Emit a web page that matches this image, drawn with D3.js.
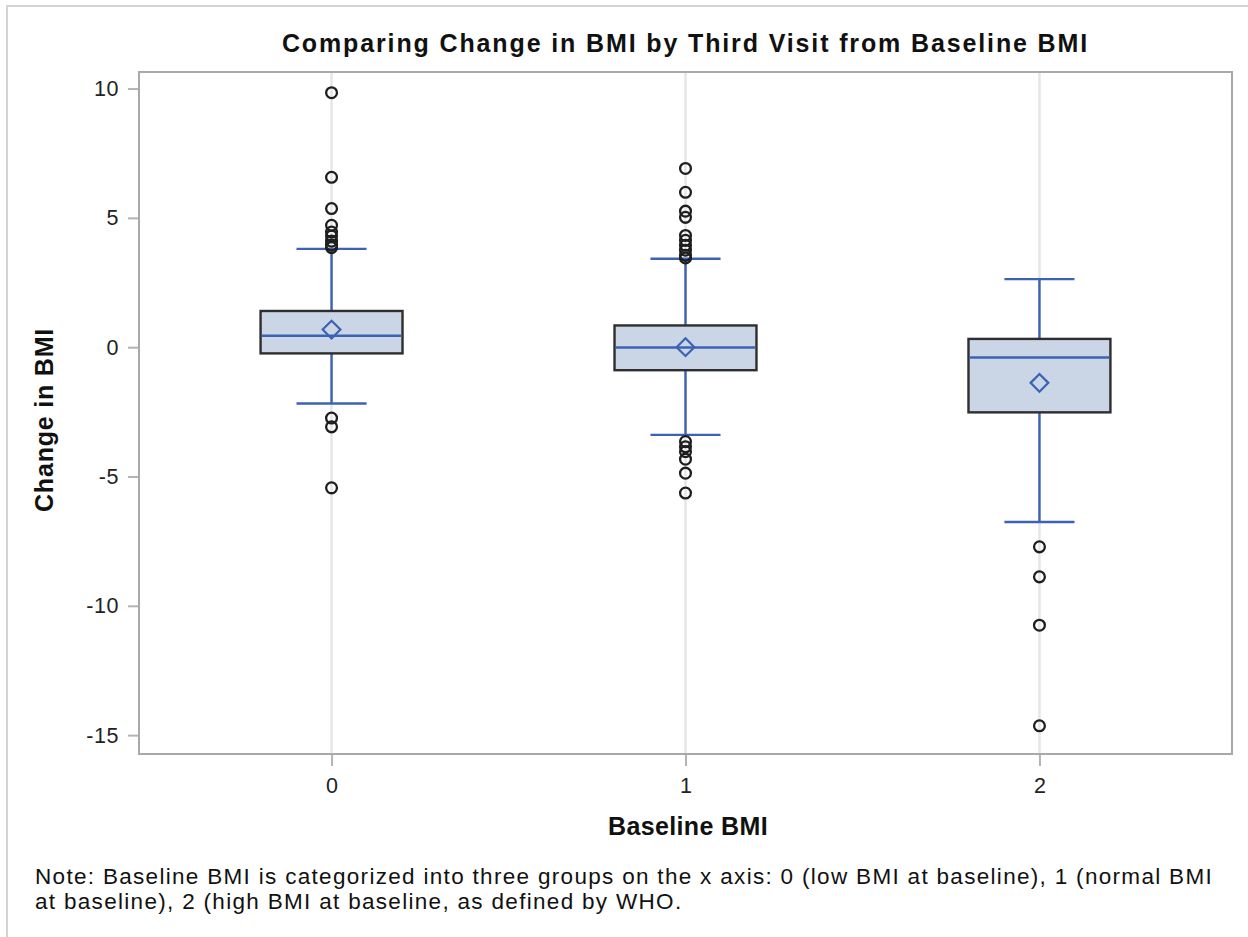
<!DOCTYPE html>
<html>
<head>
<meta charset="utf-8">
<script src="https://cdn.jsdelivr.net/npm/d3@7"></script>
<style>
  html, body { margin: 0; padding: 0; background: #fff; }
  svg { display: block; font-family: "Liberation Sans", Arial, sans-serif; }
</style>
</head>
<body>
<svg id="chart" width="1248" height="937"></svg>
<script>
// ---- data ----
const categories  = ["0", "1", "2"];
const q1          = [-0.24, -0.89, -2.52];
const median      = [0.44, -0.01, -0.40];
const q3          = [1.40, 0.84, 0.32];
const mean        = [0.68, 0.00, -1.38];
const whiskerLow  = [-2.18, -3.39, -6.76];
const whiskerHigh = [3.80, 3.42, 2.63];
const outliers0   = [9.84, 6.57, 5.36, 4.71, 4.45, 4.30, 4.10, 3.95, 3.85, -2.74, -3.08, -5.44];
const outliers1   = [6.91, 5.99, 5.26, 5.02, 4.32, 4.13, 3.94, 3.75, 3.55, 3.45, -3.65, -3.85, -4.04, -4.33, -4.87, -5.64];
const outliers2   = [-7.72, -8.88, -10.75, -14.64];
const yTicks      = [-15, -10, -5, 0, 5, 10];
const yTickLabels = ["-15", "-10", "-5", "0", "5", "10"];

const titleText = "Comparing Change in BMI by Third Visit from Baseline BMI";
const xLabel = "Baseline BMI";
const yLabel = "Change in BMI";
const noteLines = [
  "Note: Baseline BMI is categorized into three groups on the x axis: 0 (low BMI at baseline), 1 (normal BMI",
  "at baseline), 2 (high BMI at baseline, as defined by WHO."
];

const outliers = [outliers0, outliers1, outliers2];
const groups = categories.map((c, i) => ({
  cat: c, q1: q1[i], med: median[i], q3: q3[i], mean: mean[i],
  lo: whiskerLow[i], hi: whiskerHigh[i], out: outliers[i]
}));

// ---- layout ----
const plot = { left: 139, right: 1232, top: 72, bottom: 754 };
const boxColor = "#3D62B5";
const boxFill = "#CAD5E6";

const svg = d3.select("#chart");

const x = d3.scalePoint().domain(categories).range([plot.left, plot.right]).padding(0.544);
const y = d3.scaleLinear().domain([-15.73, 10.64]).range([plot.bottom, plot.top]);
const step = x.step();
const boxW = step * 0.401;
const capW = step * 0.198;

function fitWidth(sel, target) {
  const node = sel.node();
  const n = sel.text().length;
  const natural = node.getComputedTextLength();
  sel.attr("letter-spacing", ((target - natural) / n).toFixed(2));
}

// outer border
svg.append("rect").attr("x", 7).attr("y", 6).attr("width", 1400).attr("height", 1100)
  .attr("fill", "none").attr("stroke", "#D4D4D4").attr("stroke-width", 2);

// gridlines
svg.append("g").selectAll("line").data(categories).join("line")
  .attr("x1", d => x(d)).attr("x2", d => x(d))
  .attr("y1", plot.top).attr("y2", plot.bottom)
  .attr("stroke", "#E6E6E6").attr("stroke-width", 2.5);

// axes
const yAxis = svg.append("g").attr("transform", `translate(${plot.left - 1},0)`)
  .call(d3.axisLeft(y).tickValues(yTicks).tickSize(10).tickPadding(9)
    .tickFormat((d, i) => yTickLabels[i]));
yAxis.select(".domain").remove();
yAxis.selectAll(".tick line").attr("stroke", "#B4B4B4").attr("stroke-width", 2);
yAxis.selectAll(".tick text").attr("font-size", 21.5).attr("fill", "#222")
  .attr("letter-spacing", 0.6).attr("font-family", "Liberation Sans, Arial, sans-serif");

const xAxis = svg.append("g").attr("transform", `translate(0,${plot.bottom + 1})`)
  .call(d3.axisBottom(x).tickSize(11).tickPadding(12));
xAxis.select(".domain").remove();
xAxis.selectAll(".tick line").attr("stroke", "#B4B4B4").attr("stroke-width", 2);
xAxis.selectAll(".tick text").attr("font-size", 21.5).attr("fill", "#222")
  .attr("font-family", "Liberation Sans, Arial, sans-serif");

// boxes
const g = svg.append("g").selectAll("g").data(groups).join("g");

g.append("line").attr("x1", d => x(d.cat)).attr("x2", d => x(d.cat))
  .attr("y1", d => y(d.q3)).attr("y2", d => y(d.hi))
  .attr("stroke", boxColor).attr("stroke-width", 2.4);
g.append("line").attr("x1", d => x(d.cat)).attr("x2", d => x(d.cat))
  .attr("y1", d => y(d.q1)).attr("y2", d => y(d.lo))
  .attr("stroke", boxColor).attr("stroke-width", 2.4);
g.append("line").attr("x1", d => x(d.cat) - capW / 2).attr("x2", d => x(d.cat) + capW / 2)
  .attr("y1", d => y(d.hi)).attr("y2", d => y(d.hi))
  .attr("stroke", boxColor).attr("stroke-width", 2.4);
g.append("line").attr("x1", d => x(d.cat) - capW / 2).attr("x2", d => x(d.cat) + capW / 2)
  .attr("y1", d => y(d.lo)).attr("y2", d => y(d.lo))
  .attr("stroke", boxColor).attr("stroke-width", 2.4);

g.append("rect").attr("x", d => x(d.cat) - boxW / 2).attr("width", boxW)
  .attr("y", d => y(d.q3)).attr("height", d => y(d.q1) - y(d.q3))
  .attr("fill", boxFill).attr("stroke", "#2E2E2E").attr("stroke-width", 2.4);

g.append("line").attr("x1", d => x(d.cat) - boxW / 2 + 1.2).attr("x2", d => x(d.cat) + boxW / 2 - 1.2)
  .attr("y1", d => y(d.med)).attr("y2", d => y(d.med))
  .attr("stroke", boxColor).attr("stroke-width", 2.4);

g.append("path")
  .attr("d", d3.symbol().type(d3.symbolDiamond2).size(200))
  .attr("transform", d => `translate(${x(d.cat)},${y(d.mean)})`)
  .attr("fill", "none").attr("stroke", boxColor).attr("stroke-width", 2.2);

g.each(function(d) {
  d3.select(this).selectAll("circle").data(d.out).join("circle")
    .attr("cx", x(d.cat)).attr("cy", v => y(v)).attr("r", 5.4)
    .attr("fill", "none").attr("stroke", "#1E1E1E").attr("stroke-width", 2.3);
});

// frame
svg.append("rect").attr("x", plot.left).attr("y", plot.top)
  .attr("width", plot.right - plot.left).attr("height", plot.bottom - plot.top)
  .attr("fill", "none").attr("stroke", "#A9A9A9").attr("stroke-width", 2);

// title
const title = svg.append("text").attr("x", (plot.left + plot.right) / 2).attr("y", 52)
  .attr("text-anchor", "middle").attr("font-size", 25).attr("font-weight", "bold")
  .attr("fill", "#111").text(titleText);
fitWidth(title, 807);

// x label
const xl = svg.append("text").attr("x", 688).attr("y", 835)
  .attr("text-anchor", "middle").attr("font-size", 25).attr("font-weight", "bold")
  .attr("fill", "#111").text(xLabel);
fitWidth(xl, 160);

// y label
const yl = svg.append("text").attr("transform", "translate(53,420) rotate(-90)")
  .attr("text-anchor", "middle").attr("font-size", 25).attr("font-weight", "bold")
  .attr("fill", "#111").text(yLabel);
fitWidth(yl, 184);

// note
const note1 = svg.append("text").attr("x", 35).attr("y", 884).attr("font-size", 22.5)
  .attr("fill", "#111").text(noteLines[0]);
fitWidth(note1, 1178);
const note2 = svg.append("text").attr("x", 35).attr("y", 909).attr("font-size", 22.5)
  .attr("fill", "#111").attr("letter-spacing", note1.attr("letter-spacing")).text(noteLines[1]);
</script>
</body>
</html>
